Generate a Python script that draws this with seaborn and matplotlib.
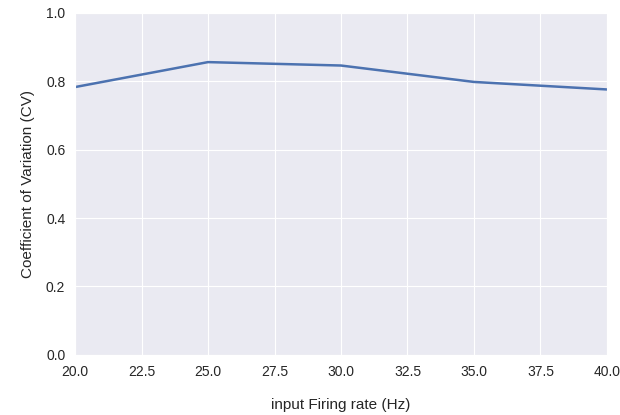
import numpy as np
import pandas as pd
import seaborn as sns
import matplotlib
matplotlib.use("Agg")
import matplotlib.pyplot as plt

# input rate vs CV
rates = [20, 25, 30, 35, 40]
cv = [0.783, 0.856, 0.846, 0.798, 0.776]

sns.set_style("darkgrid")
plt.rcParams['font.family'] = ['Liberation Sans', 'DejaVu Sans']

df = pd.DataFrame({"rate": rates, "cv": cv})

fig = plt.figure(figsize=(6.2, 4.15), dpi=100)
ax = fig.add_axes([0.121, 0.145, 0.858, 0.824])
sns.lineplot(data=df, x="rate", y="cv", color="#4C72B0", linewidth=1.8, ax=ax)
ax.set_xlim(20, 40)
ax.set_ylim(0, 1.0)
ax.set_xticks(np.arange(20, 40.1, 2.5))
ax.set_xticklabels(["%.1f" % t for t in np.arange(20, 40.1, 2.5)])
ax.set_yticks([0, 0.2, 0.4, 0.6, 0.8, 1.0])
ax.set_yticklabels(["0.0", "0.2", "0.4", "0.6", "0.8", "1.0"])
ax.tick_params(labelsize=10, colors="#262626")
ax.set_xlabel("input Firing rate (Hz)", fontsize=11, labelpad=14)
ax.set_ylabel("Coefficient of Variation (CV)", fontsize=11, labelpad=8)

fig.savefig("out.png", dpi=100)
